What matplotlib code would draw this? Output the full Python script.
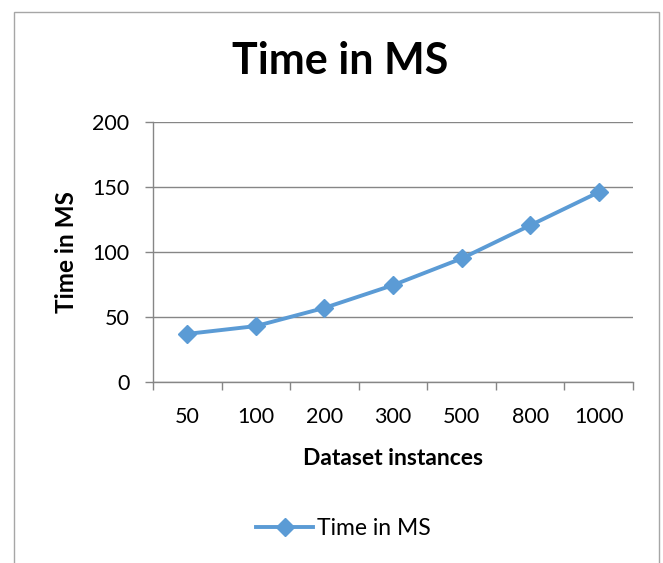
import matplotlib.pyplot as plt
from matplotlib.patches import Rectangle

# Данные
categories = ['50', '100', '200', '300', '500', '800', '1000']
time_ms = [37, 43, 57, 74.5, 95, 120.5, 146]

plt.rcParams['font.family'] = ['Lato', 'DejaVu Sans']

fig = plt.figure(figsize=(6.63, 5.63), dpi=100)
ax = fig.add_axes([0.2308, 0.3215, 0.724, 0.4618])

x = range(len(categories))
ax.plot(x, time_ms, color='#5B9BD5', linewidth=2.8, marker='D', markersize=9,
        label='Time in MS')

ax.set_xlim(-0.5, len(categories) - 0.5)
ax.set_ylim(0, 200)
ax.set_yticks([0, 50, 100, 150, 200])
ax.set_xticks(list(x))
ax.set_xticklabels(categories)
ax.set_xticks([i - 0.5 for i in range(len(categories) + 1)], minor=True)

ax.tick_params(axis='x', which='major', length=0, pad=18, labelsize=15.5)
ax.tick_params(axis='x', which='minor', length=6, color='#868686', width=1)
ax.tick_params(axis='y', length=6, color='#868686', width=1, pad=11, labelsize=15.5)

ax.grid(axis='y', color='#868686', linewidth=1)
ax.set_axisbelow(True)
for s in ['top', 'right']:
    ax.spines[s].set_visible(False)
for s in ['left', 'bottom']:
    ax.spines[s].set_color('#868686')
    ax.spines[s].set_linewidth(1)

ax.set_xlabel('Dataset instances', fontsize=16.5, fontweight='bold', labelpad=15)
ax.set_ylabel('Time in MS', fontsize=17.5, fontweight='bold', labelpad=10)

fig.text(0.513, 0.892, 'Time in MS', fontsize=31, fontweight='bold',
         ha='center', va='center')

fig.legend(loc='center', bbox_to_anchor=(0.518, 0.062), frameon=False,
           fontsize=16.5, handlelength=2.5, handletextpad=0.15)

# рамка диаграммы
fig.patches.append(Rectangle((14 / 663, -0.05), 645 / 663, 1 - 12 / 563 + 0.05,
                             transform=fig.transFigure, fill=False,
                             edgecolor='#A6A6A6', linewidth=1))

fig.savefig('out.png', dpi=100)
